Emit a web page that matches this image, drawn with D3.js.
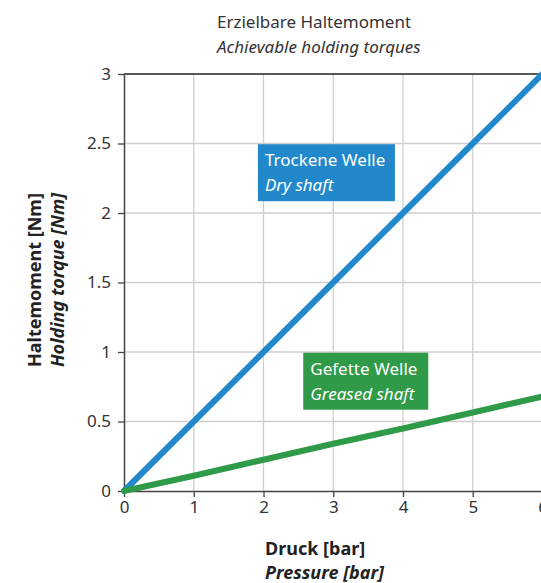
<!DOCTYPE html>
<html>
<head>
<meta charset="utf-8">
<script src="https://cdn.jsdelivr.net/npm/d3@7"></script>
<style>
  body { margin: 0; background: #fff; }
  svg { display: block; font-family: "Noto Sans", sans-serif; }
</style>
</head>
<body>
<div id="chart"></div>
<script>
// data
const pressure = [0, 1, 2, 3, 4, 5, 6];
const dryShaft = [0, 0.5, 1, 1.5, 2, 2.5, 3];
const greasedShaft = [0, 0.11, 0.225, 0.34, 0.45, 0.565, 0.68];
const xTicks = [0, 1, 2, 3, 4, 5, 6];
const yTicks = [0, 0.5, 1, 1.5, 2, 2.5, 3];

// dimensions
const WIDTH = 541;
const HEIGHT = 583;
const MARGIN_TOP = 74;
const MARGIN_LEFT = 124;
const MARGIN_BOTTOM = 92;
const X_END = 542.5;

const $svg = d3.select('#chart').append('svg')
  .attr('width', WIDTH)
  .attr('height', HEIGHT);

const x = d3.scaleLinear().domain([0, 6]).range([MARGIN_LEFT, X_END]);
const y = d3.scaleLinear().domain([0, 3]).range([HEIGHT - MARGIN_BOTTOM, MARGIN_TOP]);
const fmt = d3.format('~g');

// grid
const $grid = $svg.append('g').attr('class', 'grid');
$grid.selectAll('.vgrid').data(xTicks.slice(1)).join('line')
  .attr('x1', d => x(d)).attr('x2', d => x(d))
  .attr('y1', y(0)).attr('y2', y(3))
  .attr('stroke', '#cfcfcf').attr('stroke-width', 1.3);
$grid.selectAll('.hgrid').data(yTicks.slice(1)).join('line')
  .attr('x1', x(0)).attr('x2', x(6))
  .attr('y1', d => y(d)).attr('y2', d => y(d))
  .attr('stroke', d => d === 3 ? '#222' : '#cfcfcf')
  .attr('stroke-width', d => d === 3 ? 1.5 : 1.3);

// axes
const $xAxis = $svg.append('g')
  .attr('transform', `translate(0,${y(0)})`)
  .call(d3.axisBottom(x).tickValues(xTicks).tickFormat(fmt).tickSize(6).tickSizeOuter(0).tickPadding(4));
const $yAxis = $svg.append('g')
  .attr('transform', `translate(${x(0)},0)`)
  .call(d3.axisLeft(y).tickValues(yTicks).tickFormat(fmt).tickSize(6).tickSizeOuter(0).tickPadding(7));
[$xAxis, $yAxis].forEach($a => {
  $a.attr('font-family', null).attr('font-size', null);
  $a.selectAll('.domain').attr('stroke', '#444').attr('stroke-width', 1.5);
  $a.selectAll('.tick line').attr('stroke', '#444').attr('stroke-width', 1.3);
  $a.selectAll('.tick text').attr('fill', '#333').style('font-size', '17px');
});

// lines
const line = d3.line().x(d => x(d[0])).y(d => y(d[1]));
const series = [
  { values: dryShaft, color: '#2189cb' },
  { values: greasedShaft, color: '#2f9a47' }
];
$svg.append('g').selectAll('path').data(series).join('path')
  .attr('d', s => line(pressure.map((p, i) => [p, s.values[i]])))
  .attr('fill', 'none')
  .attr('stroke', s => s.color)
  .attr('stroke-width', 6)
  .attr('stroke-linecap', 'round');

// labels on boxes
const boxes = [
  { x0: 1.92, y0: 2.495, w: 137, h: 57, color: '#2189cb', de: 'Trockene Welle', en: 'Dry shaft' },
  { x0: 2.57, y0: 0.995, w: 125, h: 57, color: '#2f9a47', de: 'Gefette Welle', en: 'Greased shaft' }
];
const $boxes = $svg.append('g').selectAll('g').data(boxes).join('g')
  .attr('transform', d => `translate(${x(d.x0)},${y(d.y0)})`);
$boxes.append('rect')
  .attr('width', d => d.w).attr('height', d => d.h)
  .attr('fill', d => d.color);
$boxes.append('text')
  .attr('x', 7).attr('y', 22)
  .attr('fill', '#fff').style('font-size', '17px')
  .text(d => d.de);
$boxes.append('text')
  .attr('x', 7).attr('y', 47)
  .attr('fill', '#fff').style('font-size', '17px').style('font-style', 'italic')
  .text(d => d.en);

// title
$svg.append('text')
  .attr('x', 217).attr('y', 28)
  .attr('fill', '#333').style('font-size', '17px')
  .text('Erzielbare Haltemoment');
$svg.append('text')
  .attr('x', 217).attr('y', 53)
  .attr('fill', '#333').style('font-size', '17px').style('font-style', 'italic')
  .text('Achievable holding torques');

// axis titles
$svg.append('text')
  .attr('x', 265).attr('y', 555)
  .attr('fill', '#222').style('font-size', '18px').style('font-weight', 'bold')
  .text('Druck [bar]');
$svg.append('text')
  .attr('x', 265).attr('y', 579)
  .attr('fill', '#222').style('font-size', '18px').style('font-weight', 'bold').style('font-style', 'italic')
  .text('Pressure [bar]');
$svg.append('text')
  .attr('transform', 'translate(41,367) rotate(-90)')
  .attr('fill', '#222').style('font-size', '18px').style('font-weight', 'bold')
  .text('Haltemoment [Nm]');
$svg.append('text')
  .attr('transform', 'translate(64,367) rotate(-90)')
  .attr('fill', '#222').style('font-size', '18px').style('font-weight', 'bold').style('font-style', 'italic')
  .text('Holding torque [Nm]');
</script>
</body>
</html>
